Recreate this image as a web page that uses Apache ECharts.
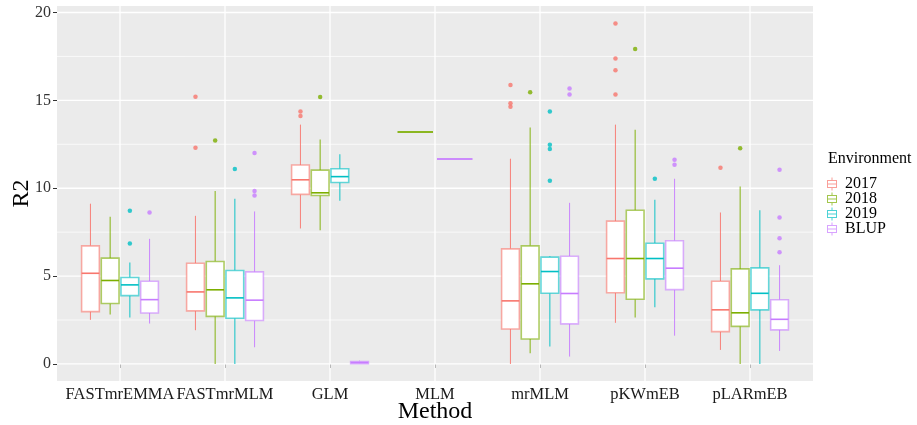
<!DOCTYPE html>
<html>
<head>
<meta charset="utf-8">
<script src="https://cdn.jsdelivr.net/npm/echarts@6/dist/echarts.min.js"></script>
<style>html,body{margin:0;padding:0;background:#fff}#chart{width:917px;height:425px}</style>
</head>
<body>
<div id="chart"></div>
<script>
// ---------- data ----------
const methods = ['FASTmrEMMA', 'FASTmrMLM', 'GLM', 'MLM', 'mrMLM', 'pKWmEB', 'pLARmEB'];
const environments = ['2017', '2018', '2019', 'BLUP'];
const yTicks = [0, 5, 10, 15, 20];

// five-number summaries per method: [min, q1, median, q3, max]; null = no data
const box2017 = [
  [2.51, 2.98, 5.16, 6.72, 9.12],
  [1.92, 3.02, 4.10, 5.73, 8.43],
  [7.71, 9.65, 10.48, 11.32, 13.62],
  null,
  [0.00, 1.99, 3.59, 6.55, 11.68],
  [2.34, 4.05, 6.00, 8.13, 13.62],
  [0.80, 1.84, 3.08, 4.71, 8.62]
];
const box2018 = [
  [2.81, 3.44, 4.75, 6.02, 8.38],
  [0.00, 2.71, 4.22, 5.83, 9.84],
  [7.61, 9.59, 9.74, 11.03, 12.78],
  [13.20, 13.20, 13.20, 13.20, 13.20],
  [0.61, 1.42, 4.56, 6.72, 13.46],
  [2.64, 3.68, 6.00, 8.75, 13.33],
  [0.00, 2.14, 2.91, 5.41, 10.10]
];
const box2019 = [
  [2.64, 3.89, 4.50, 4.92, 5.77],
  [0.00, 2.60, 3.76, 5.32, 9.40],
  [9.29, 10.33, 10.66, 11.11, 11.93],
  null,
  [1.00, 4.02, 5.26, 6.08, 6.13],
  [3.23, 4.84, 6.00, 6.87, 9.34],
  [0.00, 3.08, 4.02, 5.47, 8.75]
];
const boxBLUP = [
  [2.30, 2.90, 3.66, 4.71, 7.12],
  [0.95, 2.47, 3.63, 5.24, 8.68],
  [0.00, 0.02, 0.08, 0.14, 0.19],
  [11.66, 11.66, 11.66, 11.66, 11.66],
  [0.42, 2.28, 4.01, 6.13, 9.17],
  [1.61, 4.23, 5.45, 7.01, 10.54],
  [0.74, 1.94, 2.54, 3.65, 5.62]
];

// outliers per method
const out2017 = [[], [12.31, 15.2], [14.11, 14.36], [], [14.64, 14.83, 15.87], [15.33, 16.71, 17.38, 19.37], [11.17]];
const out2018 = [[], [12.72], [15.19], [], [15.46], [17.93], [12.27]];
const out2019 = [[6.85, 8.72], [11.09], [], [], [10.43, 12.23, 12.48, 14.36], [10.54], []];
const outBLUP = [[8.62], [9.59, 9.84, 12.0], [], [], [15.33, 15.67], [11.34, 11.62], [6.36, 7.16, 8.34, 11.05]];

// ---------- styling / layout ----------
const colors = ['#F8766D', '#7CAE00', '#00BFC4', '#C77CFF'];
const FONT = '"Liberation Serif", "Times New Roman", serif';
const boxes = [box2017, box2018, box2019, boxBLUP];
const outs = [out2017, out2018, out2019, outBLUP];
const DODGE = 0.75;

function rgba(hex, a) {
  const n = parseInt(hex.slice(1), 16);
  return 'rgba(' + ((n >> 16) & 255) + ',' + ((n >> 8) & 255) + ',' + (n & 255) + ',' + a + ')';
}

// dodge slots: computed from which environments have data for each method
const slots = methods.map((m, mi) => {
  const present = [];
  boxes.forEach((b, e) => { if (b[mi]) present.push(e); });
  const w = DODGE / present.length;
  const res = {};
  present.forEach((e, k) => { res[e] = { off: -DODGE / 2 + w * (k + 0.5), w: w }; });
  return res;
});

function makeBoxRender(e) {
  const col = colors[e];
  return function (params, api) {
    const m = api.value(0);
    const slot = slots[m - 1][e];
    const cx = m + slot.off;
    const hw = api.size([slot.w * 0.9, 0])[0] / 2;
    const pMin = api.coord([cx, api.value(1)]);
    const pQ1 = api.coord([cx, api.value(2)]);
    const pMed = api.coord([cx, api.value(3)]);
    const pQ3 = api.coord([cx, api.value(4)]);
    const pMax = api.coord([cx, api.value(5)]);
    const x = pMed[0];
    return {
      type: 'group',
      children: [
        { type: 'line', shape: { x1: x, y1: pQ3[1], x2: x, y2: pMax[1] }, style: { stroke: rgba(col, 0.85), lineWidth: 1.1 } },
        { type: 'line', shape: { x1: x, y1: pQ1[1], x2: x, y2: pMin[1] }, style: { stroke: rgba(col, 0.85), lineWidth: 1.1 } },
        { type: 'rect', shape: { x: x - hw, y: pQ3[1], width: 2 * hw, height: pQ1[1] - pQ3[1] }, style: { fill: '#ffffff', stroke: rgba(col, 0.6), lineWidth: 1.6 } },
        { type: 'line', shape: { x1: x - hw, y1: pMed[1], x2: x + hw, y2: pMed[1] }, style: { stroke: col, lineWidth: 1.6 } }
      ]
    };
  };
}

const series = [];

// panel grid lines (white), drawn through the axes
const hLines = [];
yTicks.forEach((v, i) => {
  hLines.push([1, v, 1]);
  if (i < yTicks.length - 1) hLines.push([1, (v + yTicks[i + 1]) / 2, 0]);
});
series.push({
  type: 'custom', name: 'hgrid', z: 1, silent: true,
  encode: { x: 0, y: 1 },
  data: hLines,
  renderItem: function (params, api) {
    const y = api.coord([1, api.value(1)])[1];
    const cs = params.coordSys;
    return { type: 'line', shape: { x1: cs.x, y1: y, x2: cs.x + cs.width, y2: y },
      style: { stroke: '#FFFFFF', lineWidth: api.value(2) ? 1.3 : 0.7 } };
  }
});
series.push({
  type: 'custom', name: 'vgrid', z: 1, silent: true,
  encode: { x: 0, y: 1 },
  data: methods.map((m, i) => [i + 1, 0]),
  renderItem: function (params, api) {
    const x = api.coord([api.value(0), 0])[0];
    const cs = params.coordSys;
    return { type: 'line', shape: { x1: x, y1: cs.y, x2: x, y2: cs.y + cs.height },
      style: { stroke: '#FFFFFF', lineWidth: 1.3 } };
  }
});

environments.forEach((env, e) => {
  const data = [];
  boxes[e].forEach((b, mi) => { if (b) data.push([mi + 1].concat(b)); });
  series.push({
    type: 'custom', name: env, z: 3,
    itemStyle: { color: colors[e] },
    encode: { x: 0, y: [1, 2, 3, 4, 5] },
    data: data,
    renderItem: makeBoxRender(e)
  });
  const pts = [];
  outs[e].forEach((list, mi) => {
    const slot = slots[mi][e];
    list.forEach(v => pts.push([mi + 1 + (slot ? slot.off : 0), v]));
  });
  series.push({
    type: 'scatter', name: env, z: 4,
    symbol: 'circle', symbolSize: 4.5,
    itemStyle: { color: colors[e] },
    data: pts
  });
});

const legendIcon = 'path://M5.5 0h1v2.5h-1z M1 2.5h10v1h-10z M1 9.5h10v1h-10z M1 2.5h1v8h-1z M10 2.5h1v8h-1z M1 6h10v1h-10z M5.5 10.5h1v2.5h-1z';

const option = {
  animation: false,
  backgroundColor: '#ffffff',
  title: {
    text: 'Environment', left: 828, top: 151, padding: 0,
    textStyle: { fontFamily: FONT, fontSize: 16, fontWeight: 'normal', color: '#000' }
  },
  legend: {
    orient: 'vertical', left: 827, top: 176, padding: 0,
    itemWidth: 12, itemHeight: 13, itemGap: -1,
    icon: legendIcon,
    selectedMode: false,
    textStyle: { fontFamily: FONT, fontSize: 16, color: '#000', lineHeight: 15, padding: [0, 0, 0, 2] },
    data: environments.map((env, e) => ({ name: env, itemStyle: { color: rgba(colors[e], 0.7) } }))
  },
  grid: {
    left: 57, right: 104, top: 6, bottom: 44,
    containLabel: false, outerBoundsMode: 'none',
    show: true, backgroundColor: '#EBEBEB', borderWidth: 0
  },
  xAxis: {
    type: 'value', min: 0.4, max: 7.6,
    name: 'Method', nameLocation: 'middle', nameGap: 19, nameMoveOverlap: false,
    nameTextStyle: { fontFamily: FONT, fontSize: 24, color: '#000' },
    axisLine: { show: false },
    axisTick: { show: true, customValues: methods.map((m, i) => i + 1), length: 4, lineStyle: { color: '#333', width: 1 } },
    axisLabel: {
      customValues: methods.map((m, i) => i + 1),
      formatter: v => methods[Math.round(v) - 1] || '',
      showMinLabel: true, showMaxLabel: true, hideOverlap: false,
      fontFamily: FONT, fontSize: 16.5, color: '#1a1a1a', margin: 5
    },
    splitLine: { show: false }
  },
  yAxis: {
    type: 'value', min: -0.97, max: 20.37,
    name: 'R2', nameLocation: 'middle', nameGap: 23.5, nameMoveOverlap: false,
    nameTextStyle: { fontFamily: FONT, fontSize: 24, color: '#000' },
    axisLine: { show: false },
    axisTick: { show: true, customValues: yTicks, length: 4, lineStyle: { color: '#333', width: 1 } },
    axisLabel: { customValues: yTicks, showMinLabel: true, showMaxLabel: true, fontFamily: FONT, fontSize: 16, color: '#333', margin: 6 },
    splitLine: { show: false }
  },
  series: series
};

echarts.init(document.getElementById('chart')).setOption(option);
</script>
</body>
</html>
